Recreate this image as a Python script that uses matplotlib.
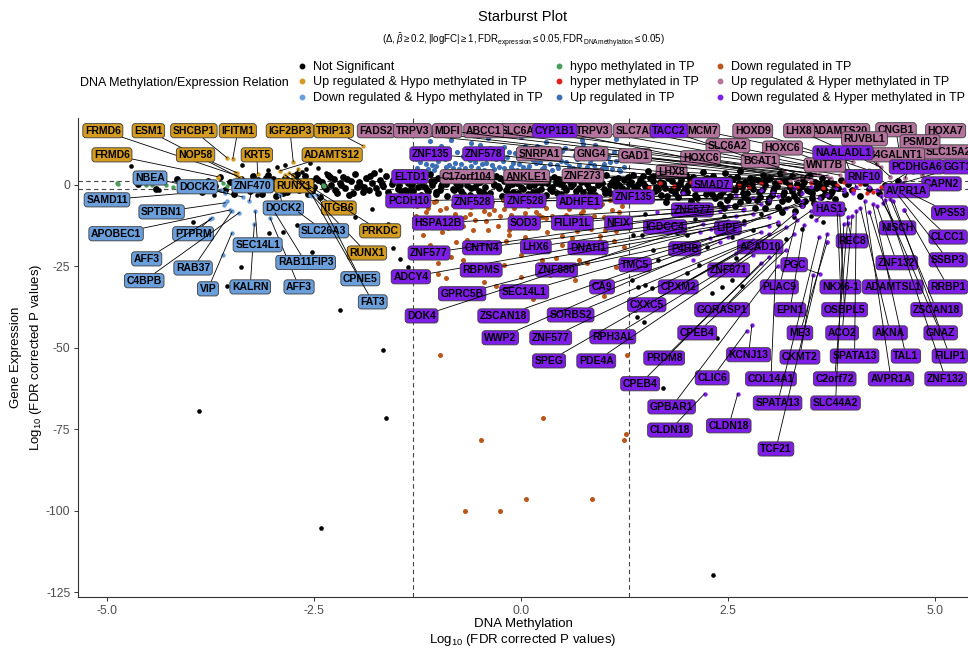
import matplotlib
matplotlib.use('Agg')
import matplotlib.pyplot as plt
from matplotlib.lines import Line2D

plt.rcParams['font.family'] = ['Liberation Sans', 'DejaVu Sans']
plt.rcParams['mathtext.fontset'] = 'custom'
plt.rcParams['mathtext.rm'] = 'Liberation Sans'
plt.rcParams['mathtext.it'] = 'Liberation Sans:italic'
plt.rcParams['mathtext.bf'] = 'Liberation Sans:bold'
plt.rcParams['axes.unicode_minus'] = False

# group colours
c_ns = 'black'
c_uphypo = '#D39B1F'
c_downhypo = '#6A9FDB'
c_hypo = '#4A9E5C'
c_hyper = '#E0201B'
c_up = '#3D6FB6'
c_down = '#B9561C'
c_uphyper = '#B3739D'
c_downhyper = '#7F1DE8'

legend_labels = ['Not Significant', 'Up regulated & Hypo methylated in TP',
                 'Down regulated & Hypo methylated in TP',
                 'hypo methylated in TP', 'hyper methylated in TP', 'Up regulated in TP',
                 'Down regulated in TP', 'Up regulated & Hyper methylated in TP',
                 'Down regulated & Hyper methylated in TP']
legend_colors = [c_ns, c_uphypo, c_downhypo, c_hypo, c_hyper, c_up,
                 c_down, c_uphyper, c_downhyper]

# ---- point data (x = DNA methylation, y = gene expression) ----
black_band = [
    (-4.62, 0.4), (-4.41, -1.2), (-4.15, 1.8), (-4.05, -0.8), (-3.92, 0.3), (-3.85, -2.1),
    (-3.78, 1.1), (-3.70, -0.5), (-3.64, 2.4), (-3.58, -1.6), (-3.52, 0.9), (-3.47, -2.8),
    (-3.43, 0.1), (-3.38, 1.9), (-3.35, -1.0),
    (-3.30, 0.8), (-3.27, -1.9), (-3.24, 2.6), (-3.20, -0.4), (-3.17, 1.5), (-3.13, -2.7),
    (-3.10, 0.2), (-3.06, 3.1), (-3.03, -1.2), (-2.99, 1.9), (-2.96, -3.3), (-2.92, 0.6),
    (-2.89, -0.9), (-2.85, 2.2), (-2.82, -2.1), (-2.78, 1.1), (-2.75, -0.2), (-2.71, 3.4),
    (-2.68, -1.6), (-2.64, 0.4), (-2.61, 2.8), (-2.57, -2.9), (-2.54, 1.3), (-2.50, -0.7),
    (-2.47, 2.0), (-2.43, -3.6), (-2.40, 0.9), (-2.36, -1.4), (-2.33, 3.0), (-2.29, -0.1),
    (-2.26, 1.7), (-2.22, -2.4), (-2.19, 0.5), (-2.15, 2.5), (-2.12, -1.1), (-2.08, -3.1),
    (-2.05, 1.2), (-2.01, 3.3), (-1.98, -0.6), (-1.94, 0.1), (-1.91, -2.2), (-1.87, 2.1),
    (-1.84, -1.7), (-1.80, 0.7), (-1.77, 3.6), (-1.73, -2.6), (-1.70, 1.4), (-1.66, -0.3),
    (-1.63, 2.7), (-1.59, -3.4), (-1.56, 0.3), (-1.52, 1.8), (-1.49, -1.3), (-1.45, -2.0),
    (-1.42, 2.9),
    (-1.38, 1.2), (-1.35, -2.3), (-1.31, 0.4), (-1.28, 2.9), (-1.24, -0.8), (-1.21, -3.2),
    (-1.17, 1.7), (-1.14, -1.5), (-1.10, 3.3), (-1.07, 0.1), (-1.03, -2.7), (-1.00, 2.2),
    (-0.96, -0.5), (-0.93, 1.0), (-0.89, -3.5), (-0.86, 2.6), (-0.82, -1.2), (-0.79, 0.6),
    (-0.75, 3.0), (-0.72, -2.0), (-0.68, 1.4), (-0.65, -0.2), (-0.61, -3.0), (-0.58, 2.4),
    (-0.54, 0.9), (-0.51, -1.8), (-0.47, 3.4), (-0.44, -0.6), (-0.40, 1.9), (-0.37, -2.5),
    (-0.33, 0.3), (-0.30, 2.8), (-0.26, -1.1), (-0.23, -3.3), (-0.19, 1.5), (-0.16, -0.3),
    (-0.12, 2.1), (-0.09, -2.1), (-0.05, 0.7), (-0.02, 3.1), (0.02, -1.4), (0.05, 1.1),
    (0.09, -2.8), (0.12, 2.5), (0.16, -0.1), (0.19, -1.9), (0.23, 3.2), (0.26, 0.5),
    (0.30, -3.1), (0.33, 1.8), (0.37, -0.7), (0.40, 2.3), (0.44, -2.4), (0.47, 0.2),
    (0.51, 1.3), (0.54, -1.6), (0.58, 3.5), (0.61, -0.4), (0.65, -3.4), (0.68, 2.0),
    (0.72, 0.8), (0.75, -2.2), (0.79, 2.7), (0.82, -0.9), (0.86, 1.6), (0.89, -3.0),
    (0.93, 0.0), (0.96, 2.4), (1.00, -1.3), (1.03, 3.1), (1.07, -2.6), (1.10, 0.9),
    (1.14, -0.5), (1.17, 2.2), (1.21, -3.2), (1.24, 1.4), (1.28, -1.7), (1.31, 0.4),
    (1.35, 2.9), (1.38, -2.4),
    (-1.33, -1.0), (-1.26, 1.6), (-1.19, -0.1), (-1.12, -2.0), (-1.05, 1.3), (-0.98, -1.7),
    (-0.91, 0.2), (-0.84, 3.2), (-0.77, -0.9), (-0.70, -2.9), (-0.63, 2.0), (-0.56, -0.8),
    (-0.49, 0.8), (-0.42, -3.0), (-0.35, 2.4), (-0.28, -0.4), (-0.21, 1.1), (-0.14, -2.8),
    (-0.07, 1.8), (0.00, -0.7), (0.07, 2.9), (0.14, -2.2), (0.21, 0.9), (0.28, 2.1),
    (0.35, -1.2), (0.42, 0.6), (0.49, -2.9), (0.56, 2.6), (0.63, 0.3), (0.70, -1.0),
    (0.77, 1.2), (0.84, -2.5), (0.91, 3.0), (0.98, 0.5), (1.05, -1.9), (1.12, 1.9),
    (1.19, -0.2), (1.26, -2.9), (1.33, 1.0),
    (1.42, 0.3), (1.45, -2.9), (1.48, 2.6), (1.51, -1.1), (1.54, 4.1), (1.57, -4.3),
    (1.60, 1.2), (1.63, -0.6), (1.66, 3.3), (1.69, -3.0), (1.72, 0.7), (1.75, -5.2),
    (1.78, 2.0), (1.81, -1.7), (1.84, 4.6), (1.87, -0.2), (1.90, -3.8), (1.93, 1.6),
    (1.96, -2.3), (1.99, 3.0), (2.02, 0.0), (2.05, -4.9), (2.08, 2.4), (2.11, -1.3),
    (2.14, -6.1), (2.17, 1.0), (2.20, 3.8), (2.23, -2.7), (2.26, 0.5), (2.29, -0.9),
    (2.32, 2.8), (2.35, -4.0), (2.38, 1.4), (2.41, -5.8), (2.44, -1.9), (2.47, 3.5),
    (2.50, 0.2), (2.53, -3.3), (2.56, 1.9), (2.59, -6.6), (2.62, -0.4), (2.65, 4.2),
    (2.68, -2.5), (2.71, 0.9), (2.74, -4.6), (2.77, 2.2), (2.80, -1.2), (2.83, -7.2),
    (2.86, 1.5), (2.89, -3.6), (2.92, 3.1), (2.95, -0.1), (2.98, -5.4), (3.01, 2.0),
    (3.04, -2.0), (3.07, 0.6), (3.10, -6.9), (3.13, 3.6), (3.16, -3.0), (3.19, 1.1),
    (3.22, -4.4), (3.25, -0.8), (3.28, 2.6), (3.31, -7.9), (3.34, 0.3), (3.37, -2.6),
    (3.40, 1.7), (3.43, -5.0), (3.46, -1.5), (3.49, 3.0), (3.52, -3.9), (3.55, 0.8),
    (3.58, -8.4), (3.61, -0.5), (3.64, 2.2), (3.67, -2.9), (3.70, -6.0), (3.73, 1.3),
    (3.76, -1.8), (3.79, -4.2),
    (1.44, 1.5), (1.50, -0.5), (1.56, 2.2), (1.62, -2.0), (1.68, 0.9), (1.74, -1.0),
    (1.80, 3.1), (1.86, -2.6), (1.92, 0.4), (1.98, -1.1), (2.04, 1.8), (2.10, -3.1),
    (2.16, -0.3), (2.22, 1.9), (2.28, -2.0), (2.34, 0.8), (2.40, -3.2), (2.46, -0.6),
    (2.52, 2.1), (2.58, -1.6), (2.64, 0.5), (2.70, -3.8), (2.76, -0.2), (2.82, 1.7),
    (2.88, -2.2), (2.94, 0.9), (3.00, -4.1), (3.06, -1.0), (3.12, 1.4), (3.18, -2.3),
    (3.24, 0.6), (3.30, -3.4), (3.36, -1.1), (3.42, 1.0), (3.48, -2.0), (3.54, -5.5),
    (3.60, 0.2), (3.66, -1.3), (3.72, -3.4), (3.78, 0.4),
    (3.83, -0.9), (3.87, 1.4), (3.91, -2.7), (3.95, 0.2), (4.00, -1.6), (4.05, 2.3),
    (4.10, -3.5), (4.15, 0.7), (4.21, -1.2), (4.27, 1.9), (4.33, -2.4), (4.40, 0.0),
    (4.48, -1.4), (4.56, 1.1),
    (-3.28, -0.6), (-3.22, 1.0), (-3.15, -1.4), (-3.08, 2.0), (-3.01, -0.3), (-2.94, 1.3),
    (-2.87, -2.4), (-2.80, 0.3), (-2.73, 2.3), (-2.66, -1.0), (-2.59, 0.8), (-2.52, -2.0),
    (-2.45, 1.6), (-2.38, -0.5), (-2.31, 2.4), (-2.24, -1.5), (-2.17, 0.0), (-2.10, 1.9),
    (-2.03, -2.5), (-1.96, 1.0), (-1.89, -0.8), (-1.82, 2.6), (-1.75, -1.1), (-1.68, 0.4),
    (-1.61, -2.3), (-1.54, 1.6), (-1.47, -0.2), (-1.40, -1.6),
    (-1.36, 0.6), (-1.30, -1.8), (-1.23, 2.3), (-1.16, -0.6), (-1.09, 1.1), (-1.02, -2.2),
    (-0.95, 0.4), (-0.88, 2.0), (-0.81, -1.5), (-0.74, 0.1), (-0.67, 2.7), (-0.60, -1.0),
    (-0.53, 0.5), (-0.46, -2.3), (-0.39, 1.4), (-0.32, -0.2), (-0.25, 2.2), (-0.18, -1.6),
    (-0.11, 0.3), (-0.04, -2.6), (0.03, 1.6), (0.10, -0.3), (0.17, 2.1), (0.24, -1.3),
    (0.31, 0.6), (0.38, -2.0), (0.45, 1.7), (0.52, -0.6), (0.59, 0.9), (0.66, -1.9),
    (0.73, 2.5), (0.80, 0.2), (0.87, -1.2), (0.94, 1.3), (1.01, -2.4), (1.08, -0.1),
    (1.15, 1.0), (1.22, -1.1), (1.29, 2.3), (1.36, -0.8),
    (1.41, -1.6), (1.47, 0.6), (1.53, -3.2), (1.59, 2.7), (1.65, -1.4), (1.71, 0.1),
    (1.77, -3.3), (1.83, 1.1), (1.89, -1.0), (1.95, 2.8), (2.01, -2.1), (2.07, 0.3),
    (2.13, -4.1), (2.19, -0.8), (2.25, 2.2), (2.31, -2.9), (2.37, -0.3), (2.43, 1.2),
    (2.49, -4.6), (2.55, -1.2), (2.61, 2.4), (2.67, -0.7), (2.73, -2.6), (2.79, 0.4),
    (2.85, -4.5), (2.91, -1.5), (2.97, 1.9), (3.03, -3.2), (3.09, -0.5), (3.15, -5.1),
    (3.21, 0.8), (3.27, -1.9), (3.33, -4.7), (3.39, -0.3), (3.45, 2.3), (3.51, -2.4),
    (3.57, -0.9), (3.63, -3.7), (3.69, 0.7), (3.75, -2.5), (3.81, -5.9), (3.40, -6.2),
    (3.15, -8.2), (2.95, -7.0), (3.60, -7.2), (2.65, -5.4), (2.45, -7.1),
]

black_scatter = [
    (-4.71, 5.8), (-4.37, -1.5), (-3.96, -11.4), (-3.71, -3.1), (-3.37, 6.1), (-3.38, -25.2),
    (-3.55, -31.0), (-3.04, -14.7), (-2.87, -14.4), (-2.52, -20.6), (-3.00, -19.0),
    (-2.19, -38.3), (-3.19, -3.1), (-2.70, -12.3), (-1.55, -19.3), (-1.46, -22.7),
    (-1.36, -25.2), (-1.55, -26.7), (-1.46, -27.6), (-2.00, -10.0), (-1.80, -7.5),
    (-2.30, -6.0), (-1.60, -12.0), (-2.60, 5.0), (-2.20, 4.2), (-1.70, 4.5), (-2.95, 5.5),
    (-3.05, 4.5), (-2.85, 6.0), (-2.65, 3.8), (-2.45, 5.2), (-2.35, 3.5), (-2.55, 6.8),
    (-2.75, 2.9),
    (-3.89, -69.5), (-1.63, -71.5), (-1.67, -50.7), (-2.41, -105.3), (2.32, -119.7),
    (1.50, -9.0), (1.70, -12.5), (1.90, -8.0), (2.00, -15.5), (2.10, -10.5), (2.25, -19.0),
    (2.35, -13.0), (2.45, -9.5), (2.55, -16.0), (2.60, -22.5), (2.70, -11.0), (2.80, -14.0),
    (2.90, -9.0), (3.00, -19.5), (3.10, -12.0), (3.20, -16.5), (3.30, -10.0), (3.40, -13.5),
    (3.50, -9.5), (3.65, -11.5), (3.90, -7.5), (1.35, -15.3), (1.46, -15.3), (1.59, -19.9),
    (1.65, -23.0), (1.80, -20.9), (1.88, -14.7), (1.34, -29.1), (1.41, -31.3), (1.50, -30.7),
    (1.58, -31.6), (2.31, -33.1), (2.43, -31.3), (2.67, -31.0), (2.55, -29.1), (1.40, -40.5),
    (1.49, -42.0), (2.37, -46.9), (1.71, -62.3), (1.38, -38.3), (2.00, -27.0), (2.15, -24.5),
]

green_pts = [(-4.88, 0.6), (-4.87, 0.3), (-4.53, 0.0), (-4.46, 0.0), (-4.29, 0.0), (-4.20, -0.6),
             (-3.60, 0.6), (-3.55, -0.3), (-2.39, 0.0), (-2.38, -0.3), (-3.90, 0.2), (-3.45, 0.4)]

red_pts = [(1.68, 0.6), (1.85, -0.4), (2.05, 0.9), (2.30, -0.7), (2.50, 0.4), (2.64, 0.0),
           (2.75, -0.8), (2.90, 0.7), (3.13, 0.9), (3.25, -0.3), (3.33, -0.6), (3.50, 0.5),
           (3.65, -0.9), (3.82, 0.0), (3.90, 0.8), (4.01, -1.5), (4.10, 0.3), (4.18, -2.5),
           (4.25, -2.1), (4.35, -0.6), (1.55, -0.8), (2.20, 0.2)]

up_pts = [
    (-1.25, 5.2), (-1.20, 8.5), (-1.15, 6.3), (-1.10, 11.0), (-1.05, 4.6), (-1.00, 7.4),
    (-0.95, 9.8), (-0.90, 5.5), (-0.85, 13.9), (-0.80, 6.8), (-0.75, 4.9), (-0.70, 8.9),
    (-0.65, 10.7), (-0.60, 5.8), (-0.55, 7.1), (-0.50, 12.2), (-0.45, 4.5), (-0.40, 9.2),
    (-0.35, 6.0), (-0.30, 8.0), (-0.25, 15.6), (-0.20, 5.3), (-0.15, 10.1), (-0.10, 6.6),
    (-0.05, 4.7), (0.00, 8.6), (0.05, 11.8), (0.10, 5.9), (0.15, 7.6), (0.20, 9.5),
    (0.25, 4.8), (0.30, 13.1), (0.35, 6.4), (0.40, 8.2), (0.45, 5.1), (0.50, 10.4),
    (0.55, 7.0), (0.60, 4.6), (0.65, 9.0), (0.70, 6.1), (0.75, 12.6), (0.80, 5.4),
    (0.85, 7.8), (0.90, 4.9), (0.95, 10.9), (1.00, 6.5), (1.05, 8.4), (1.10, 5.0),
    (1.15, 7.2), (1.20, 9.7), (1.25, 5.6),
    (-1.22, 6.9), (-1.12, 4.9), (-1.02, 5.9), (-0.92, 7.9), (-0.82, 5.1), (-0.72, 6.4),
    (-0.62, 7.7), (-0.52, 5.2), (-0.42, 6.7), (-0.32, 4.8), (-0.22, 7.3), (-0.12, 5.6),
    (-0.02, 6.3), (0.08, 4.9), (0.18, 6.8), (0.28, 5.5), (0.38, 4.7), (0.48, 7.2),
    (0.58, 5.7), (0.68, 8.0), (0.78, 4.8), (0.88, 6.2), (0.98, 5.3), (1.08, 6.9),
    (1.18, 4.7), (-0.78, 16.7), (0.62, 15.9), (1.15, 14.2), (-0.30, 17.3), (-1.10, 13.5),
    (0.74, 13.8),
    (-1.27, 7.8), (-1.17, 9.6), (-1.07, 6.2), (-0.97, 11.9), (-0.87, 6.0), (-0.77, 10.0),
    (-0.67, 5.3), (-0.57, 9.4), (-0.47, 6.3), (-0.37, 11.3), (-0.27, 5.6), (-0.17, 8.4),
    (-0.07, 9.9), (0.03, 5.5), (0.13, 10.8), (0.23, 6.9), (0.33, 8.9), (0.43, 6.0),
    (0.53, 11.4), (0.63, 5.2), (0.73, 9.3), (0.83, 6.6), (0.93, 8.7), (1.03, 5.1),
    (1.13, 10.2), (1.23, 7.5), (-1.00, 9.0), (-0.60, 12.9), (-0.20, 11.5), (0.20, 12.0),
    (0.45, 9.3), (0.90, 12.1), (-0.40, 14.4), (0.00, 14.8), (0.40, 11.0), (-0.90, 4.3),
    (-0.10, 4.4), (0.60, 4.3), (1.20, 4.2), (-1.20, 4.2),
]

down_pts = [
    (-1.25, -6.5), (-1.20, -12.0), (-1.15, -8.3), (-1.10, -18.5), (-1.05, -5.4), (-1.00, -10.2),
    (-0.95, -14.6), (-0.90, -7.1), (-0.85, -22.0), (-0.80, -9.0), (-0.75, -5.8), (-0.70, -12.7),
    (-0.65, -16.9), (-0.60, -6.9), (-0.55, -10.8), (-0.50, -25.3), (-0.45, -8.1), (-0.40, -13.9),
    (-0.35, -5.2), (-0.30, -19.6), (-0.25, -9.6), (-0.20, -7.4), (-0.15, -15.3), (-0.10, -11.1),
    (-0.05, -6.0), (0.00, -21.4), (0.05, -8.7), (0.10, -13.2), (0.15, -5.6), (0.20, -17.8),
    (0.25, -10.0), (0.30, -7.0), (0.35, -27.5), (0.40, -12.3), (0.45, -6.3), (0.50, -15.8),
    (0.55, -9.3), (0.60, -20.4), (0.65, -5.1), (0.70, -11.6), (0.75, -8.0), (0.80, -24.1),
    (0.85, -13.5), (0.90, -6.7), (0.95, -17.2), (1.00, -9.9), (1.05, -29.4), (1.10, -7.6),
    (1.15, -14.2), (1.20, -11.0), (1.25, -19.0),
    (-1.22, -4.6), (-1.12, -7.0), (-1.02, -4.9), (-0.92, -10.6), (-0.82, -6.1), (-0.72, -4.7),
    (-0.62, -8.8), (-0.52, -5.9), (-0.42, -11.0), (-0.32, -7.7), (-0.22, -4.8), (-0.12, -9.1),
    (-0.02, -5.3), (0.08, -6.4), (0.18, -8.2), (0.28, -4.6), (0.38, -9.7), (0.48, -5.2),
    (0.58, -7.3), (0.68, -14.1), (0.78, -5.5), (0.88, -9.5), (0.98, -6.0), (1.08, -4.8),
    (1.18, -8.4), (-0.90, -28.7), (-0.30, -31.0), (0.30, -32.0), (0.90, -30.5), (-1.00, -23.9),
    (0.55, -26.2), (-0.60, -33.5), (0.15, -35.0), (1.00, -34.0),
    (-1.27, -9.6), (-1.18, -15.3), (-1.08, -10.9), (-0.98, -7.6), (-0.88, -13.2), (-0.78, -17.6),
    (-0.68, -9.9), (-0.58, -14.0), (-0.48, -20.4), (-0.38, -8.8), (-0.28, -12.6), (-0.18, -17.1),
    (-0.08, -7.0), (0.02, -12.2), (0.12, -19.0), (0.22, -9.4), (0.32, -14.6), (0.42, -22.3),
    (0.52, -11.3), (0.62, -16.4), (0.72, -8.5), (0.82, -12.8), (0.92, -20.1), (1.02, -13.9),
    (1.12, -17.3), (1.22, -6.4), (-1.15, -22.0), (-0.70, -23.0), (-0.20, -24.6), (0.25, -23.2),
    (0.70, -22.9), (1.15, -25.3), (-0.95, -19.7), (-0.40, -17.4), (0.05, -16.1), (0.50, -18.6),
    (0.95, -15.7), (-1.00, -27.3), (0.00, -28.4), (0.65, -29.1), (-0.45, -29.9), (-0.80, -13.0),
    (0.30, -10.3), (0.85, -10.5), (-0.15, -13.7),
    (-0.98, -52.1), (0.27, -71.5), (-0.48, -78.2), (0.06, -96.3), (0.86, -96.3), (-0.68, -100.0),
    (-0.25, -100.0), (1.27, -76.4), (1.25, -78.2), (1.28, -52.1),
]

uphypo_extra = [(-3.66, 2.1), (-3.41, 2.1), (-3.45, 3.7)]
downhypo_extra = [(-3.55, -4.9), (-3.59, -6.1), (-3.60, -21.5), (-2.55, -3.1)]
uphyper_extra = [(4.46, 2.5), (4.64, 2.1), (4.73, 4.0), (4.20, 3.8), (4.85, 3.0)]
downhyper_extra = [(2.16, -14.4), (2.28, -16.3), (2.68, -7.7), (2.08, -23.0), (1.64, -8.3),
                   (1.96, -2.5), (3.04, -2.5), (4.01, -2.5), (3.70, -17.5), (4.63, -7.7)]

# ---- labelled genes ----
uphypo_genes = ['FRMD6', 'ESM1', 'SHCBP1', 'IFITM1', 'IGF2BP3', 'TRIP13', 'FRMD6', 'NOP58',
                'KRT5', 'ADAMTS12', 'RUNX1', 'ITGB6', 'PRKDC', 'RUNX1']
uphypo_pts = [(-3.43, 2.8), (-3.39, 2.1), (-3.55, 8.3), (-3.48, 8.0), (-2.75, 7.1), (-1.91, 12.0),
              (-3.66, 2.5), (-3.43, 3.7), (-3.18, 3.4), (-2.91, 4.3), (-2.69, 4.9), (-2.85, 3.0),
              (-2.80, 3.6), (-2.75, 2.8)]

downhypo_genes = ['NBEA', 'SAMD11', 'DOCK2', 'ZNF470', 'SPTBN1', 'APOBEC1', 'PTPRM', 'AFF3',
                  'RAB37', 'C4BPB', 'VIP', 'KALRN', 'AFF3', 'SEC14L1', 'DOCK2', 'SLC26A3',
                  'RAB11FIP3', 'CPNE5', 'FAT3']
downhypo_pts = [(-3.57, -2.5), (-3.62, -1.6), (-3.36, -3.7), (-3.28, -5.0), (-3.57, -5.5),
                (-3.51, -7.7), (-3.73, -10.1), (-3.75, -10.6), (-3.49, -8.0), (-3.40, -8.5),
                (-3.49, -14.7), (-3.22, -12.0), (-3.03, -10.1), (-3.21, -8.0), (-2.91, -3.1),
                (-2.69, -8.3), (-2.97, -8.6), (-2.46, -3.1), (-2.52, -3.3)]

uphyper_genes = ['FADS2', 'TRPV3', 'SLC6A3', 'ABCC1', 'MDFI', 'TRPV3', 'SLC7A5', 'MCM7', 'HOXD9',
                 'ADAMTS20', 'LHX8', 'CNGB1', 'HOXA7', 'RUVBL1', 'SLC15A2', 'PSMD2', 'B4GALNT1',
                 'HOXC6', 'SLC6A2', 'HOXC6', 'BCAT1', 'WNT7B', 'LHX8', 'SNRPA1', 'GNG4', 'GAD1',
                 'C17orf104', 'ANKLE1', 'ZNF273']
uphyper_pts = [(3.18, 4.0), (3.40, 2.6), (3.62, 4.6), (3.70, 2.8), (3.55, 3.4), (3.85, 3.0),
               (3.95, 3.6), (4.01, 7.1), (4.20, 4.5), (4.46, 2.5), (4.35, 5.4), (4.60, 5.2),
               (4.73, 4.0), (4.30, 6.5), (4.85, 3.0), (4.64, 2.1), (4.50, 5.8), (4.05, 3.2),
               (3.90, 5.0), (3.60, 3.2), (4.10, 4.2), (4.25, 2.6), (3.45, 2.2), (3.30, 2.1),
               (3.50, 1.9), (3.75, 2.0), (3.10, 1.8), (3.25, 1.6), (3.35, 1.9)]

downhyper_genes = ['CYP1B1', 'TACC2', 'ZNF135', 'ZNF578', 'NAALADL1', 'GGT1', 'PCDHGA6', 'RNF10',
                   'CAPN2', 'AVPR1A', 'SMAD7', 'ELTD1', 'PCDH10', 'ZNF528', 'ZNF528', 'ADHFE1',
                   'ZNF135', 'ZNF577', 'HAS1', 'VPS53', 'HSPA12B', 'SOD3', 'FILIP1L', 'NFIX',
                   'IGDCC4', 'LIPF', 'NISCH', 'CLCC1', 'REC8', 'P4HB', 'ACAD10', 'CNTN4', 'LHX6',
                   'DNAH1', 'ZNF577', 'SSBP3', 'ZNF132', 'PGC', 'TMC5', 'ZNF671', 'ADCY4', 'RBPMS',
                   'ZNF880', 'CA9', 'CPXM2', 'PLAC9', 'NKX6-1', 'ADAMTSL1', 'RRBP1', 'GPRC5B',
                   'SEC14L1', 'CXXC5', 'GORASP1', 'EPN1', 'OSBPL5', 'ZSCAN18', 'DOK4', 'ZSCAN18',
                   'SORBS2', 'CPEB4', 'ME3', 'ACO2', 'AKNA', 'GNAZ', 'WWP2', 'ZNF577', 'RPH3AL',
                   'KCNJ13', 'CKMT2', 'SPATA13', 'TAL1', 'FILIP1', 'PRDM8', 'SPEG', 'PDE4A',
                   'CLIC6', 'COL14A1', 'C2orf72', 'AVPR1A', 'ZNF132', 'CPEB4', 'SPATA13',
                   'SLC44A2', 'GPBAR1', 'CLDN18', 'CLDN18', 'TCF21']
downhyper_pts = [(3.80, -1.0), (3.90, -1.4), (3.30, -1.0), (3.50, -0.6), (4.05, -0.8), (4.60, 0.5),
                 (4.40, -0.5), (4.20, -0.6), (4.70, -1.0), (4.30, -1.6), (3.90, -2.0), (2.90, -1.5),
                 (2.60, -3.0), (2.80, -4.0), (3.00, -4.5), (3.10, -3.5), (3.40, -2.5), (3.70, -3.0),
                 (3.57, -10.7), (4.65, -2.0), (2.50, -6.5), (2.70, -7.5), (2.90, -6.0), (3.20, -7.0),
                 (3.40, -6.5), (3.60, -4.0), (4.37, -5.5), (4.60, -2.5), (3.95, -11.7), (3.40, -5.0),
                 (3.50, -8.0), (2.60, -9.5), (2.80, -9.0), (3.00, -10.0), (2.40, -8.0), (4.55, -3.0),
                 (4.30, -6.5), (3.61, -27.3), (3.10, -11.5), (3.30, -9.0), (2.50, -11.0),
                 (2.70, -12.0), (3.00, -12.5), (2.90, -14.5), (3.20, -13.0), (3.33, -10.7),
                 (3.82, -8.3), (4.21, -8.3), (4.63, -7.7), (2.30, -13.5), (2.60, -14.0),
                 (3.00, -15.0), (3.30, -15.0), (3.42, -12.3), (3.85, -9.0), (4.46, -4.3),
                 (2.20, -12.0), (2.50, -16.0), (2.80, -17.0), (3.20, -20.0), (3.70, -17.5),
                 (4.00, -9.5), (4.10, -7.0), (4.35, -3.5), (2.40, -17.5), (2.70, -18.5),
                 (2.90, -19.0), (2.79, -43.0), (3.53, -27.6), (4.05, -8.0), (4.25, -6.0),
                 (4.50, -5.0), (3.00, -22.0), (2.60, -21.0), (2.80, -21.5), (2.73, -44.7),
                 (3.09, -17.8), (3.95, -10.0), (4.15, -5.0), (4.40, -4.5), (2.90, -24.0),
                 (3.60, -16.0), (3.90, -12.0), (3.10, -25.0), (2.22, -64.0), (2.62, -64.0),
                 (3.70, -15.0)]

# ---- label placement (data coordinates of the label centres) ----
uphypo_pos = [(-5.05, 16.6), (-4.50, 16.6), (-3.95, 16.6), (-3.42, 16.6), (-2.79, 16.6),
              (-2.26, 16.6), (-4.94, 9.2), (-3.93, 9.2), (-3.19, 9.2), (-2.28, 9.2), (-2.74, -0.3),
              (-2.20, -7.1), (-1.70, -14.1), (-1.86, -20.9)]
downhypo_pos = [(-4.48, 2.1), (-5.00, -4.6), (-3.91, -0.6), (-3.24, -0.3), (-4.34, -8.3),
                (-4.89, -15.0), (-3.96, -15.0), (-4.52, -22.7), (-3.96, -25.5), (-4.55, -29.4),
                (-3.78, -31.9), (-3.27, -31.3), (-2.68, -31.3), (-3.18, -18.4), (-2.87, -7.1),
                (-2.38, -14.1), (-2.60, -23.8), (-1.94, -28.8), (-1.79, -35.9)]
uphyper_pos = [(-1.75, 16.6), (-1.31, 16.6), (0.00, 16.6), (-0.45, 16.6), (-0.89, 16.6),
               (0.87, 16.6), (1.38, 16.6), (2.19, 16.6), (2.80, 16.6), (3.85, 16.6), (3.36, 16.6),
               (4.53, 16.9), (5.13, 16.6), (4.15, 14.1), (5.16, 10.1), (4.82, 13.2), (4.52, 9.2),
               (3.16, 11.3), (2.50, 12.0), (2.17, 8.3), (2.89, 7.4), (3.67, 6.1), (1.82, 4.0),
               (0.22, 9.5), (0.85, 9.5), (1.38, 8.9), (-0.65, 2.5), (0.07, 2.5), (0.75, 2.8)]
downhyper_pos = [(0.41, 16.6), (1.79, 16.6), (-1.09, 9.5), (-0.45, 9.5), (3.89, 9.8), (5.28, 5.5),
                 (4.78, 5.5), (4.14, 2.5), (5.08, 0.3), (4.66, -1.8), (2.31, 0.0), (-1.34, 2.5),
                 (-1.36, -4.9), (-0.58, -5.2), (0.05, -4.9), (0.71, -5.2), (1.36, -3.7),
                 (2.07, -7.7), (3.72, -7.4), (5.18, -8.6), (-1.00, -11.7), (0.04, -11.7),
                 (0.62, -11.7), (1.18, -11.7), (1.74, -12.9), (2.50, -13.2), (4.55, -13.2),
                 (5.16, -16.0), (4.00, -17.2), (1.98, -19.6), (2.89, -19.0), (-0.47, -19.3),
                 (0.18, -19.0), (0.81, -19.3), (-1.11, -20.9), (5.16, -23.0), (4.54, -23.9),
                 (3.30, -24.5), (1.38, -24.5), (2.51, -26.1), (-1.33, -28.2), (-0.48, -26.1),
                 (0.43, -26.1), (0.98, -31.3), (1.90, -31.3), (3.12, -31.3), (3.86, -31.3),
                 (4.49, -31.3), (5.16, -31.3), (-0.71, -33.4), (0.04, -32.8), (1.52, -36.8),
                 (2.43, -38.3), (3.25, -38.3), (3.91, -38.3), (5.02, -38.3), (-1.20, -40.2),
                 (-0.21, -40.2), (0.60, -39.9), (2.13, -45.4), (3.37, -45.4), (3.88, -45.4),
                 (4.46, -45.4), (5.07, -45.4), (-0.25, -46.9), (0.36, -46.9), (1.11, -46.6),
                 (2.75, -52.1), (3.37, -52.8), (4.03, -52.5), (4.65, -52.5), (5.18, -52.5),
                 (1.73, -53.1), (0.34, -54.0), (0.91, -54.0), (2.31, -59.2), (3.02, -59.5),
                 (3.79, -59.5), (4.47, -59.5), (5.13, -59.5), (1.44, -61.0), (3.10, -66.9),
                 (3.80, -66.9), (1.82, -68.1), (1.80, -75.2), (2.51, -73.9), (3.08, -81.0)]

for g, p, q in [(uphypo_genes, uphypo_pts, uphypo_pos), (downhypo_genes, downhypo_pts, downhypo_pos),
                (uphyper_genes, uphyper_pts, uphyper_pos), (downhyper_genes, downhyper_pts, downhyper_pos)]:
    assert len(g) == len(p) == len(q), (len(g), len(p), len(q))


def draw_points(ax, pts, color, size=9):
    ax.scatter([p[0] for p in pts], [p[1] for p in pts], s=size, c=color,
               linewidths=0, zorder=2)


def draw_labels(ax, genes, pts, pos, color):
    for gene, pt, lp in zip(genes, pts, pos):
        ax.annotate(gene, xy=pt, xytext=lp, textcoords='data', ha='center', va='center',
                    fontsize=7.5, fontweight='bold', color='black', annotation_clip=False,
                    bbox=dict(boxstyle='round,pad=0.2,rounding_size=0.3', fc=color,
                              ec='#3a3a3a', lw=0.6),
                    arrowprops=dict(arrowstyle='-', color='black', lw=0.6,
                                    shrinkA=0, shrinkB=0),
                    zorder=4)


fig = plt.figure(figsize=(9.68, 6.48), dpi=100)
ax = fig.add_axes([78 / 968, 1 - 597 / 648, 1 - 78 / 968, (597 - 118) / 648])
ax.set_xlim(-5.35, 5.40)
ax.set_ylim(-126.4, 20.5)

for v in (-1.3, 1.3):
    ax.axvline(v, ls=(0, (4, 3)), color='#444444', lw=0.8, zorder=1)
    ax.axhline(v, ls=(0, (4, 3)), color='#444444', lw=0.8, zorder=1)

draw_points(ax, black_band, c_ns, 24)
draw_points(ax, black_scatter, c_ns, 11)
draw_points(ax, green_pts, c_hypo, 10)
draw_points(ax, red_pts, c_hyper, 10)
draw_points(ax, up_pts, c_up, 14)
draw_points(ax, down_pts, c_down, 13)
draw_points(ax, uphypo_pts + uphypo_extra, c_uphypo, 10)
draw_points(ax, downhypo_pts + downhypo_extra, c_downhypo, 10)
draw_points(ax, uphyper_pts + uphyper_extra, c_uphyper, 10)
draw_points(ax, downhyper_pts + downhyper_extra, c_downhyper, 10)

draw_labels(ax, uphypo_genes, uphypo_pts, uphypo_pos, c_uphypo)
draw_labels(ax, downhypo_genes, downhypo_pts, downhypo_pos, c_downhypo)
draw_labels(ax, uphyper_genes, uphyper_pts, uphyper_pos, c_uphyper)
draw_labels(ax, downhyper_genes, downhyper_pts, downhyper_pos, c_downhyper)

ax.spines['top'].set_visible(False)
ax.spines['right'].set_visible(False)
for s in ('left', 'bottom'):
    ax.spines[s].set_color('#333333')
    ax.spines[s].set_linewidth(0.8)
ax.set_xticks([-5, -2.5, 0, 2.5, 5])
ax.set_xticklabels(['-5.0', '-2.5', '0.0', '2.5', '5.0'])
ax.set_yticks([0, -25, -50, -75, -100, -125])
ax.tick_params(length=3, width=0.7, color='#333333', labelcolor='#4D4D4D', labelsize=8.8,
               pad=2.5)

fig.text(0.5403, 1 - 624 / 648, 'DNA Methylation', ha='center', va='center', fontsize=9.5)
fig.text(0.5403, 1 - 640 / 648, r'Log$_{10}$ (FDR corrected P values)', ha='center',
         va='center', fontsize=9.5)
fig.text(16 / 968, 1 - 357 / 648, 'Gene Expression', ha='center', va='center',
         rotation=90, fontsize=9.5)
fig.text(36 / 968, 1 - 357 / 648, r'Log$_{10}$ (FDR corrected P values)', ha='center',
         va='center', rotation=90, fontsize=9.5)

fig.text(0.5403, 1 - 17 / 648, 'Starburst Plot', ha='center', va='center', fontsize=10.5)
fig.text(0.5403, 1 - 41 / 648,
         r'$(\Delta,\bar{\beta}\geq0.2,|\mathrm{logFC}|\geq1,\mathrm{FDR}_{\mathrm{expression}}'
         r'\leq0.05,\mathrm{FDR}_{\mathrm{DNAmethylation}}\leq0.05)$',
         ha='center', va='center', fontsize=7)

fig.text(80 / 968, 1 - 83 / 648, 'DNA Methylation/Expression Relation', ha='left',
         va='center', fontsize=9)
handles = [Line2D([], [], ls='none', marker='o', ms=3.2, mfc=c, mec=c) for c in legend_colors]
for i, x0 in enumerate([297 / 968, 554 / 968, 715 / 968]):
    fig.legend(handles[3 * i:3 * i + 3], legend_labels[3 * i:3 * i + 3], loc='upper left',
               bbox_to_anchor=(x0, 1 - 61 / 648), frameon=False, fontsize=9,
               handlelength=0.8, handletextpad=0.5, labelspacing=0.28, borderpad=0,
               borderaxespad=0)

fig.savefig('out.png', dpi=100)
